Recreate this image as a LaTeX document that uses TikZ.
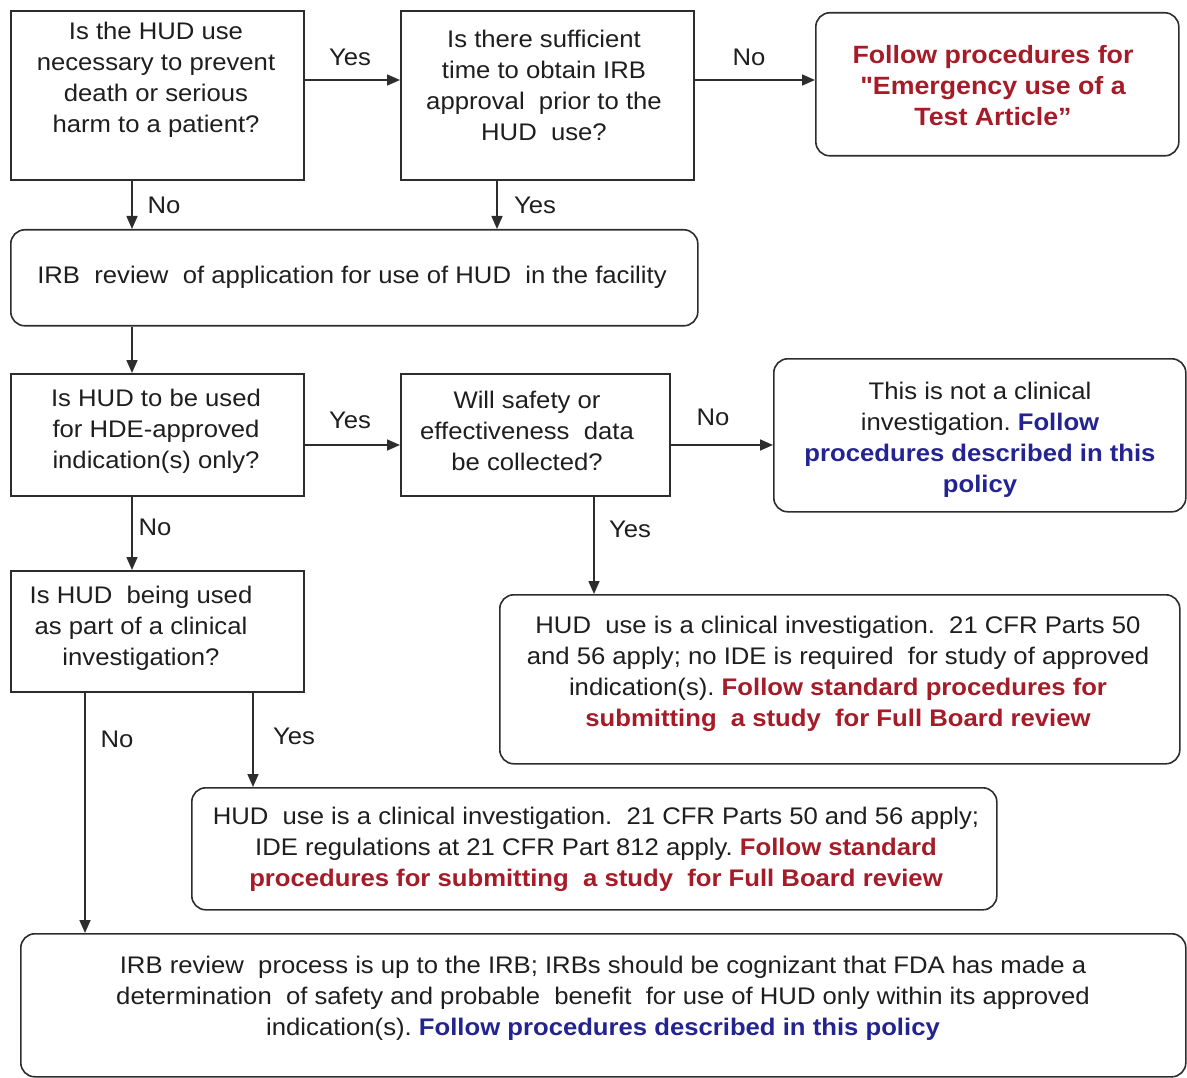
\documentclass[tikz,border=0pt]{standalone}
\usepackage{fontspec}
\setmainfont[FakeStretch=1.07]{Liberation Sans}
\newfontfamily\plainq[FakeStretch=1.07]{Liberation Sans}
\usetikzlibrary{arrows.meta}
\definecolor{redtxt}{RGB}{165,28,40}
\definecolor{bluetxt}{RGB}{35,35,145}
\definecolor{linecol}{RGB}{45,45,45}
\definecolor{txtcol}{RGB}{30,30,30}
\newcommand{\rd}[1]{{\color{redtxt}\bfseries #1}}
\newcommand{\bl}[1]{{\color{bluetxt}\bfseries #1}}
\begin{document}
\begin{tikzpicture}[x=1pt,y=-1pt,
  font=\fontsize{24}{31}\selectfont, text=txtcol,
  qbox/.style={draw=linecol, line width=1.6pt, anchor=north west, inner sep=0pt},
  rbox/.style={qbox, rounded corners=14pt},
  txt/.style={align=center, inner sep=0pt},
  lbl/.style={inner sep=0pt},
  arr/.style={draw=linecol, line width=1.6pt, -{Triangle[length=13pt,width=11pt]}}]
\useasboundingbox (0,0) rectangle (1187,1078);
% boxes
\node[qbox, minimum width=293pt, minimum height=169pt] (A) at (10,10) {};
\node[qbox, minimum width=293pt, minimum height=169pt] (B) at (400,10) {};
\node[rbox, minimum width=363pt, minimum height=143pt] (C) at (815,12) {};
\node[rbox, minimum width=687pt, minimum height=96pt] (D) at (10,229) {};
\node[qbox, minimum width=293pt, minimum height=122pt] (E) at (10,373) {};
\node[qbox, minimum width=269pt, minimum height=122pt] (F) at (400,373) {};
\node[rbox, minimum width=412pt, minimum height=153pt] (G) at (773,358) {};
\node[qbox, minimum width=293pt, minimum height=121pt] (H) at (10,570) {};
\node[rbox, minimum width=680pt, minimum height=169pt] (I) at (499,594) {};
\node[rbox, minimum width=805pt, minimum height=122pt] (J) at (191,787) {};
\node[rbox, minimum width=1165pt, minimum height=143pt] (K) at (20,933) {};
% texts
\node[txt] (tA) at (156,80) {Is the HUD use\\necessary to prevent\\death or serious\\harm to a patient?};
\node[txt] (tB) at (544,85) {Is there sufficient\\time to obtain IRB\\approval\ \ prior to the\\HUD\ \ use?};
\node[txt, font=\fontsize{25}{31}\selectfont\bfseries, text=redtxt] (tC) at (993,86) {Follow procedures for\\{\plainq\bfseries "}Emergency use of a\\Test Article”};
\node[txt] (tD) at (352,277) {IRB\ \ review\ \ of application for use of HUD\ \ in the facility};
\node[txt] (tE) at (156,431) {Is HUD to be used\\for HDE-approved\\indication(s) only?};
\node[txt] (tF) at (527,431) {Will safety or\\effectiveness\ \ data\\be collected?};
\node[txt] (tG) at (980,440) {This is not a clinical\\investigation.\ \bl{Follow}\\\bl{procedures described in this}\\\bl{policy}};
\node[txt] (tH) at (141,628) {Is HUD\ \ being used\\as part of a clinical\\investigation?};
\node[txt] (tI) at (838,674) {HUD\ \ use is a clinical investigation.\ \ 21 CFR Parts 50\\and 56 apply; no IDE is required\ \ for study of approved\\indication(s).\ \rd{Follow standard procedures for}\\\rd{submitting\ \ a study\ \ for Full Board review}};
\node[txt] (tJ) at (596,849) {HUD\ \ use is a clinical investigation.\ \ 21 CFR Parts 50 and 56 apply;\\IDE regulations at 21 CFR Part 812 apply.\ \rd{Follow standard}\\\rd{procedures for submitting\ \ a study\ \ for Full Board review}};
\node[txt] (tK) at (603,998) {IRB review\ \ process is up to the IRB; IRBs should be cognizant that FDA has made a\\determination\ \ of safety and probable\ \ benefit\ \ for use of HUD only within its approved\\indication(s).\ \bl{Follow procedures described in this policy}};
% connectors
\draw[arr] (A.east |- 0,80) -- (B.west |- 0,80);
\draw[arr] (B.east |- 0,80) -- (C.west |- 0,80);
\draw[arr] (A.south -| 132,0) -- (D.north -| 132,0);
\draw[arr] (B.south -| 497,0) -- (D.north -| 497,0);
\draw[arr] (D.south -| 132,0) -- (E.north -| 132,0);
\draw[arr] (E.east |- 0,445) -- (F.west |- 0,445);
\draw[arr] (F.east |- 0,445) -- (G.west |- 0,445);
\draw[arr] (E.south -| 132,0) -- (H.north -| 132,0);
\draw[arr] (F.south -| 594,0) -- (I.north -| 594,0);
\draw[arr] (H.south -| 253,0) -- (J.north -| 253,0);
\draw[arr] (H.south -| 85,0) -- (K.north -| 85,0);
% labels
\node[lbl] (l1) at (350,57) {Yes};
\node[lbl] (l2) at (749,57) {No};
\node[lbl] (l3) at (164,205) {No};
\node[lbl] (l4) at (535,205) {Yes};
\node[lbl] (l5) at (350,420) {Yes};
\node[lbl] (l6) at (713,417) {No};
\node[lbl] (l7) at (155,527) {No};
\node[lbl] (l8) at (630,529) {Yes};
\node[lbl] (l9) at (294,736) {Yes};
\node[lbl] (l10) at (117,739) {No};
\end{tikzpicture}
\end{document}
